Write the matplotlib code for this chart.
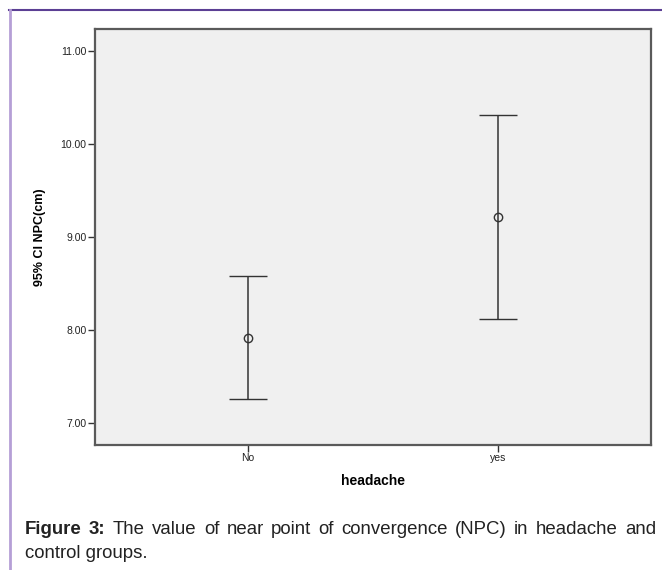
import matplotlib
matplotlib.use("Agg")
import matplotlib.pyplot as plt
from matplotlib.lines import Line2D
import numpy as np

categories = ["No", "yes"]
means = [7.91, 9.215]
lower = [7.26, 8.12]
upper = [8.575, 10.31]
yticks = [7.0, 8.0, 9.0, 10.0, 11.0]
ytick_labels = ["7.00", "8.00", "9.00", "10.00", "11.00"]
caption_bold = "Figure 3:"
caption_line1 = "The value of near point of convergence (NPC) in headache and"
caption_line2 = "control groups."

plt.rcParams['font.family'] = ['Liberation Sans', 'DejaVu Sans']

W, H = 662, 570
fig = plt.figure(figsize=(W / 100, H / 100), dpi=100)
fig.patch.set_facecolor('white')

ax = fig.add_axes([95 / W, 1 - 445 / H, 556 / W, 416 / H])
ax.set_facecolor('#f0f0f0')

x = np.arange(len(categories))
m = np.array(means)
lo = np.array(lower)
up = np.array(upper)
ax.errorbar(x, m, yerr=[m - lo, up - m], fmt='o', mfc='none', mec='#333333',
            mew=1.0, ms=6, ecolor='#333333', elinewidth=1.1, capsize=13.7,
            capthick=1.6, zorder=3)

ax.set_xlim(-0.611, 1.613)
ax.set_ylim(6.76, 11.24)
ax.set_yticks(yticks)
ax.set_yticklabels(ytick_labels)
ax.set_xticks(x)
ax.set_xticklabels(categories)
ax.tick_params(axis='both', direction='out', length=5, width=1, color='#333333',
               labelsize=7.5, labelcolor='#222222', pad=1)

for s in ax.spines.values():
    s.set_color('#5a5a5a')
    s.set_linewidth(1.6)

ax.set_ylabel("95% CI NPC(cm)", fontsize=9, fontweight='bold')
ax.yaxis.set_label_coords((46 - 95) / 556, 0.5)
ax.set_xlabel("headache", fontsize=10, fontweight='bold', labelpad=8)

# outer frame
fig.add_artist(Line2D([9 / W, 1], [1 - 9.5 / H, 1 - 9.5 / H], color='#5b3f94',
                      lw=1.5, transform=fig.transFigure))
fig.add_artist(Line2D([9.5 / W, 9.5 / W], [0, 1 - 9.5 / H], color='#b59fd6',
                      lw=2.0, transform=fig.transFigure))

# caption, justified line 1
fs = 13.4
renderer = fig.canvas.get_renderer()
left_px, right_px = 25, 656
y1 = 1 - 530 / H
words = [(caption_bold.split()[0], 'bold'), (caption_bold.split()[1], 'bold')] + \
        [(w, 'normal') for w in caption_line1.split()]
texts = []
widths = []
for w, wt in words:
    t = fig.text(0, y1, w, fontsize=fs, fontweight=wt, color='#222222',
                 va='center', ha='left')
    widths.append(t.get_window_extent(renderer).width)
    texts.append(t)
gap = (right_px - left_px - sum(widths)) / (len(words) - 1)
pos = left_px
for t, wdt in zip(texts, widths):
    t.set_x(pos / W)
    pos += wdt + gap

fig.text(left_px / W, 1 - 553 / H, caption_line2, fontsize=fs,
         color='#222222', va='center', ha='left')

fig.savefig("out.png", dpi=100, facecolor='white')
